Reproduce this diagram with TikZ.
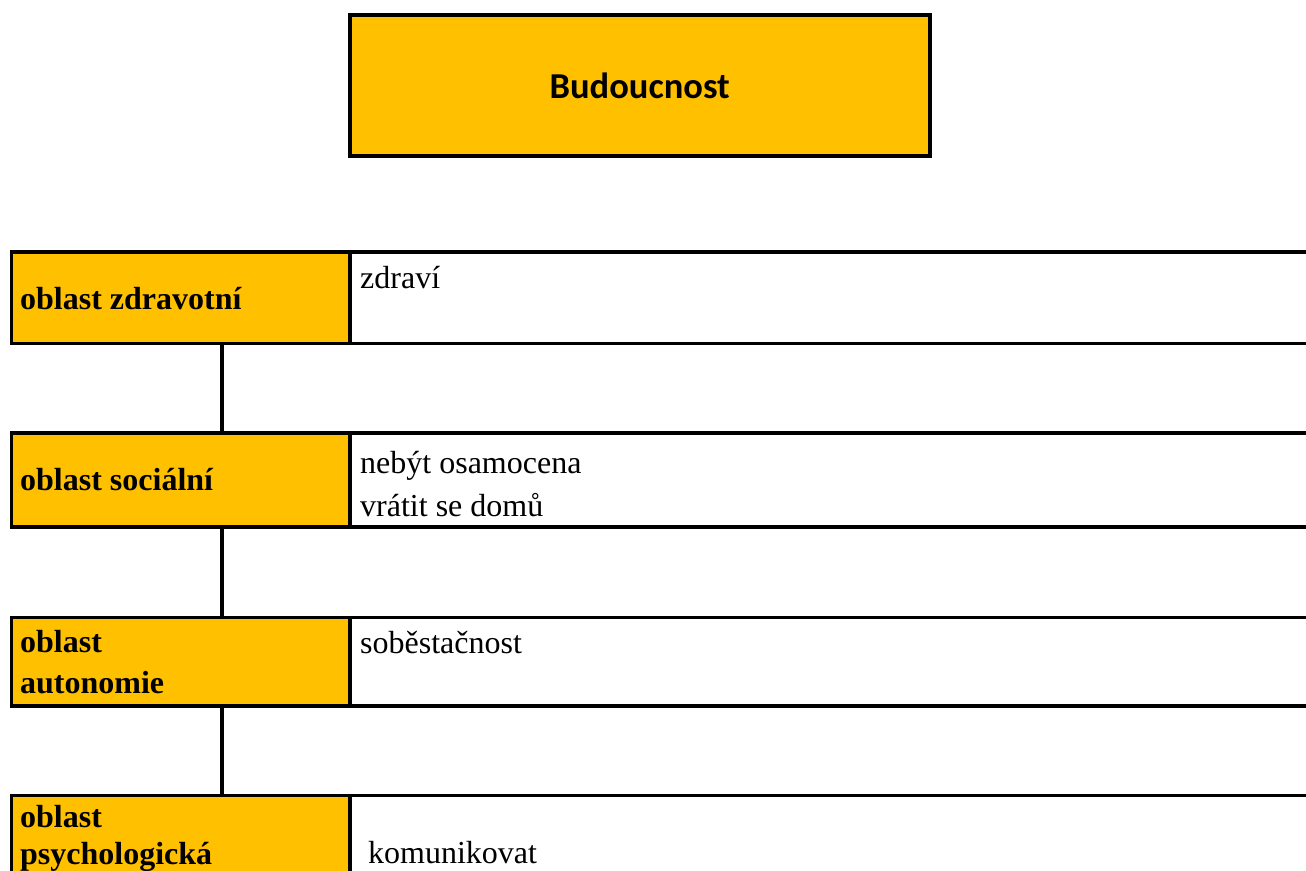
\documentclass[tikz,border=0pt]{standalone}
\usepackage{fontspec}
\setmainfont{Liberation Serif}
\newfontfamily\titlefont{Carlito}
\definecolor{gold}{HTML}{FFC000}
\begin{document}
\begin{tikzpicture}[x=1pt,y=-1pt,
  frame/.style={draw=black,line width=3.4pt,inner sep=0pt,outer sep=0pt,rectangle},
  areacell/.style={frame,fill=gold,minimum width=338.7pt},
  valuecell/.style={frame,fill=white,minimum width=970pt},
  link/.style={draw=black,line width=3.4pt},
  areatext/.style={anchor=base west,inner sep=0pt,font=\bfseries\fontsize{32}{41}\selectfont},
  valuetext/.style={anchor=base west,inner sep=0pt,font=\fontsize{32}{41}\selectfont}]
\useasboundingbox (0,0) rectangle (1306,870);
\clip (0,0) rectangle (1306,870);

% heading box
\node[frame,line width=4pt,fill=gold,minimum width=580pt,minimum height=141.3pt]
  (title) at (639.7,85.35) {\titlefont\bfseries\fontsize{36.5}{44}\selectfont Budoucnost};

% value cells (right column, running past the edge)
\node[valuecell,minimum height=91.5pt] (v1) at (835,297.75) {};
\node[valuecell,minimum height=94pt]   (v2) at (835,480) {};
\node[valuecell,minimum height=88.3pt] (v3) at (835,661.85) {};
\node[valuecell,minimum height=164.3pt](v4) at (835,877.85) {};

% area cells (left column)
\node[areacell,minimum height=91.5pt] (a1) at (180.65,297.75) {};
\node[areacell,minimum height=94pt]   (a2) at (180.65,480) {};
\node[areacell,minimum height=88.3pt] (a3) at (180.65,661.85) {};
\node[areacell,minimum height=164.3pt](a4) at (180.65,877.85) {};

% vertical links between the area cells
\coordinate (spine) at (222,0);
\draw[link] (a1.south -| spine) -- (a2.north -| spine);
\draw[link] (a2.south -| spine) -- (a3.north -| spine);
\draw[link] (a3.south -| spine) -- (a4.north -| spine);

% area labels
\node[areatext] (t1)  at (20,309)   {oblast zdravotní};
\node[areatext] (t2)  at (20,490)   {oblast sociální};
\node[areatext] (t3a) at (20,652)   {oblast};
\node[areatext] (t3b) at (20,693)   {autonomie};
\node[areatext] (t4a) at (20,827.3) {oblast};
\node[areatext] (t4b) at (20,864)   {psychologická};

% values
\node[valuetext] (w1)  at (360,288) {zdraví};
\node[valuetext] (w2a) at (360,473) {nebýt osamocena};
\node[valuetext] (w2b) at (360,516) {vrátit se domů};
\node[valuetext] (w3)  at (360,653) {soběstačnost};
\node[valuetext] (w4)  at (368,863) {komunikovat};
\end{tikzpicture}
\end{document}
